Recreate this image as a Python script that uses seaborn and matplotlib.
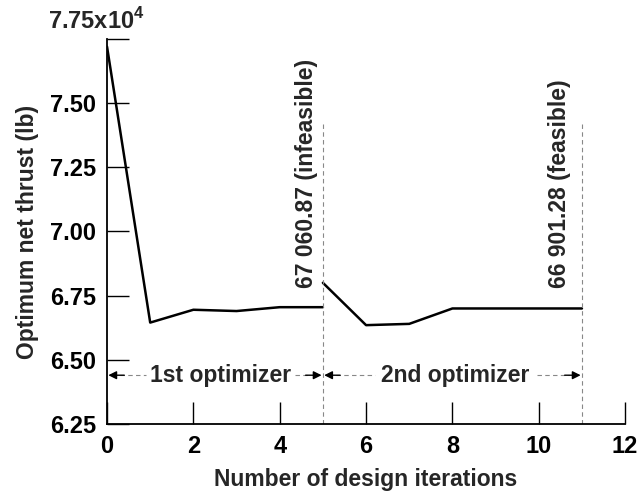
import matplotlib
matplotlib.use('Agg')
import matplotlib.pyplot as plt
import pandas as pd
import seaborn as sns

# design iterations and optimum net thrust (x10^4 lb)
iter_first = [0, 1, 2, 3, 4, 5]
thrust_first = [7.72, 6.645, 6.695, 6.69, 6.705, 6.705]
iter_second = [5, 6, 7, 8, 9, 10, 11]
thrust_second = [6.80, 6.635, 6.64, 6.70, 6.70, 6.70, 6.70]

switch_iters = [5, 11]
switch_labels = ['67 060.87 (infeasible)', '66 901.28 (feasible)']
phase_labels = ['1st optimizer', '2nd optimizer']

y_ticks = [6.25, 6.50, 6.75, 7.00, 7.25, 7.50, 7.75]
y_tick_labels = ['6.25', '6.50', '6.75', '7.00', '7.25', '7.50', '']
x_ticks = [0, 2, 4, 6, 8, 10, 12]

sns.set_style('ticks')
plt.rcParams['font.family'] = ['Liberation Sans', 'DejaVu Sans']
plt.rcParams['font.weight'] = 'bold'
plt.rcParams['mathtext.fontset'] = 'custom'
plt.rcParams['mathtext.rm'] = 'Liberation Sans:bold'
plt.rcParams['mathtext.bf'] = 'Liberation Sans:bold'

df1 = pd.DataFrame({'iter': iter_first, 'thrust': thrust_first})
df2 = pd.DataFrame({'iter': iter_second, 'thrust': thrust_second})

fig = plt.figure(figsize=(6.42, 4.93), dpi=100)
ax = fig.add_axes([0.1667, 0.140, 0.807, 0.781])

sns.lineplot(data=df1, x='iter', y='thrust', ax=ax, color='black', lw=1.8)
sns.lineplot(data=df2, x='iter', y='thrust', ax=ax, color='black', lw=1.8)

for xs in switch_iters:
    ax.plot([xs, xs], [6.25, 7.42], ls=(0, (4, 3)), color='#888888', lw=0.8)

ax.text(4.62, 6.78, switch_labels[0], rotation=90, ha='center', va='bottom',
        fontsize=16.5, fontweight='bold')
ax.text(10.47, 6.78, switch_labels[1], rotation=90, ha='center', va='bottom',
        fontsize=16.5, fontweight='bold')

# phase arrows
y_arr = 6.44
phases = [(0, 5, 2.62, 0.9, 4.35), (5, 11, 8.06, 6.2, 9.95)]
for (x0, x1, xc, tl, tr), lab in zip(phases, phase_labels):
    ax.text(xc, y_arr, lab, ha='center', va='center', fontsize=16.5, fontweight='bold')
    ax.plot([x0 + 0.3, tl], [y_arr, y_arr], ls=(0, (4, 3)), color='#888888', lw=0.8)
    ax.plot([tr, x1 - 0.3], [y_arr, y_arr], ls=(0, (4, 3)), color='#888888', lw=0.8)
    ax.annotate('', xy=(x0 + 0.03, y_arr), xytext=(x0 + 0.4, y_arr),
                arrowprops=dict(arrowstyle='-|>', color='black', lw=1,
                                mutation_scale=12, shrinkA=0, shrinkB=0))
    ax.annotate('', xy=(x1 - 0.03, y_arr), xytext=(x1 - 0.4, y_arr),
                arrowprops=dict(arrowstyle='-|>', color='black', lw=1,
                                mutation_scale=12, shrinkA=0, shrinkB=0))

ax.set_xlim(0, 12)
ax.set_ylim(6.25, 7.75)
ax.set_xticks(x_ticks)
ax.set_yticks(y_ticks)
ax.set_yticklabels(y_tick_labels)
ax.tick_params(direction='in', length=16, width=1.0, labelsize=17, colors='black')
ax.tick_params(axis='x', pad=8)
ax.tick_params(axis='y', pad=8)
for lab in ax.get_xticklabels() + ax.get_yticklabels():
    lab.set_fontweight('bold')

sns.despine(ax=ax)
for s in ['left', 'bottom']:
    ax.spines[s].set_linewidth(1.3)
    ax.spines[s].set_color('black')

ax.set_xlabel('Number of design iterations', fontsize=16.5, fontweight='bold', labelpad=7)
ax.set_ylabel('Optimum net thrust (lb)', fontsize=16.5, fontweight='bold', labelpad=8)

fig.text(145 / 642, 1 - 29 / 493, r'7.75x10$^{4}$', ha='right', va='baseline',
         fontsize=17, fontweight='bold')

fig.savefig('out.png', dpi=100)
